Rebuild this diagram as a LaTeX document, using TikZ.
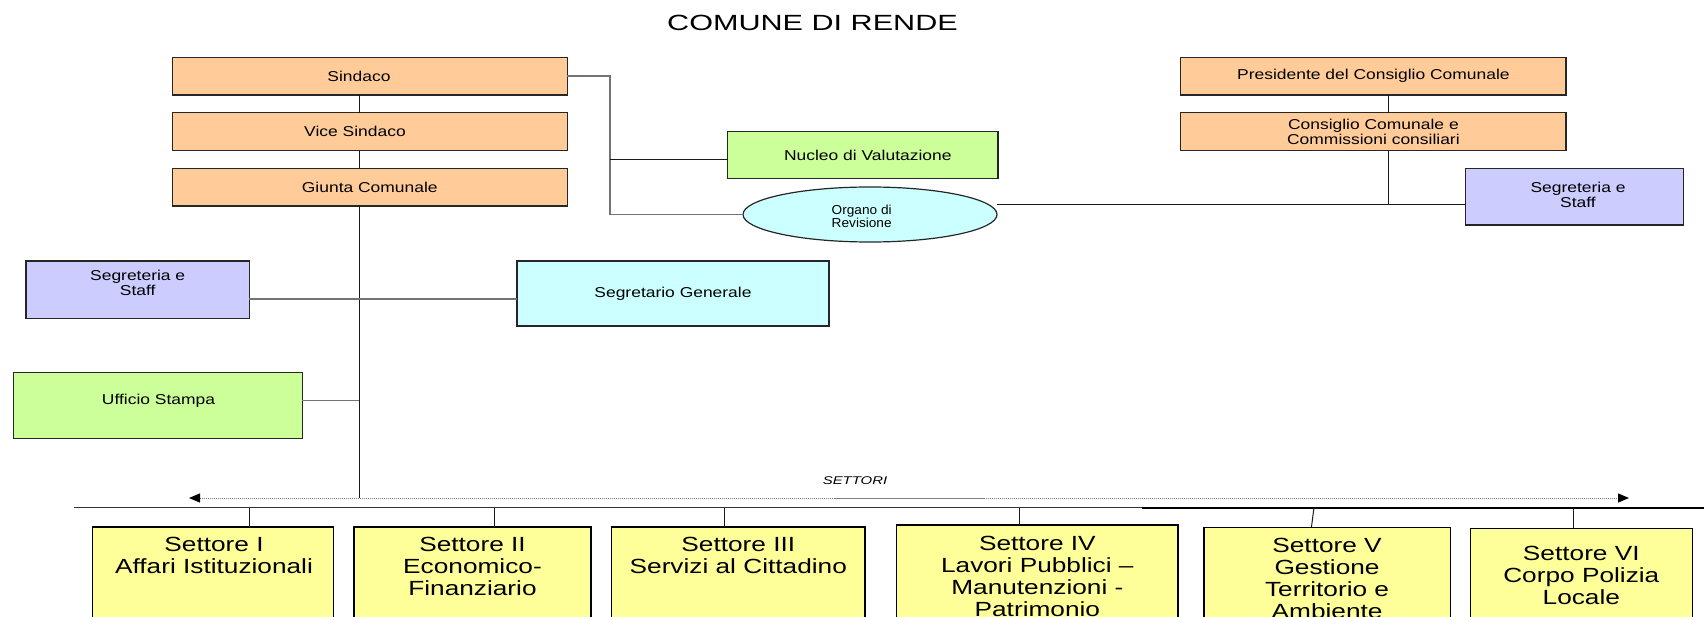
\documentclass[tikz,border=0pt]{standalone}
\usepackage{fontspec}
\setmainfont{Liberation Sans}
\newfontfamily\FontSmall{Liberation Sans}[FakeStretch=1.22]
\newfontfamily\FontSett{Liberation Sans}[FakeStretch=1.28]
\newfontfamily\FontTitle{Liberation Sans}[FakeStretch=1.39]
\newfontfamily\FontOrg{Liberation Sans}[FakeStretch=1.05]
\newfontfamily\FontSettori{Liberation Sans}[FakeStretch=1.33]
\usetikzlibrary{arrows.meta,shapes.geometric}
\definecolor{orF}{HTML}{FFCC99}
\definecolor{grF}{HTML}{CCFF99}
\definecolor{lvF}{HTML}{CCCCFF}
\definecolor{cyF}{HTML}{CCFFFF}
\definecolor{yeF}{HTML}{FFFF99}
\begin{document}
\begin{tikzpicture}[x=1pt,y=-1pt,
  box/.style={rectangle, draw=black!85, line width=1.2pt, inner sep=0pt, outer sep=0pt},
  sbox/.style={rectangle, draw=black, fill=yeF, line width=1.2pt, inner sep=0pt, outer sep=0pt},
  sm/.style={font=\FontSmall\fontsize{14.3}{14.8}\selectfont, align=center},
  stxt/.style={font=\FontSett\fontsize{20.5}{22}\selectfont, align=center, inner sep=0pt, anchor=north},
  ln/.style={line width=1pt, black!90},
  gln/.style={line width=1.5pt, black!55},
]
\useasboundingbox (0,0) rectangle (1704,617);
\fill[white] (0,0) rectangle (1704,617);

% title
\node[font=\FontTitle\fontsize{22}{26}\selectfont, inner sep=0pt, anchor=base] (title) at (812.5,30.9) {COMUNE DI RENDE};

% left column
\node[box, fill=orF, minimum width=395pt, minimum height=37.7pt, sm] (sind) at (369.8,76.2) {Sindaco\hspace*{21.6pt}};
\node[box, fill=orF, minimum width=395pt, minimum height=38pt, sm] (vice) at (369.8,131.7) {Vice Sindaco\hspace*{29.6pt}};
\node[box, fill=orF, minimum width=395pt, minimum height=37.7pt, sm] (giunta) at (369.8,187.2) {Giunta Comunale};

% right column
\node[box, fill=orF, minimum width=385.3pt, minimum height=37.7pt, sm] (pres) at (1373.4,76.2) {Presidente del Consiglio Comunale};
\node[box, fill=orF, minimum width=385.3pt, minimum height=38pt, sm] (cons) at (1373.4,131.7) {Consiglio Comunale e\\Commissioni consiliari};
\node[box, fill=lvF, minimum width=217.6pt, minimum height=56.7pt] (segR) at (1574.5,196.7) {};
\node[sm, inner sep=0pt, anchor=north] (segRt) at (1578,181.8) {Segreteria e\\Staff};

% middle
\node[box, fill=grF, minimum width=270.5pt, minimum height=46.6pt, sm] (nuc) at (862.8,155) {\hspace*{10pt}Nucleo di Valutazione};
\node[ellipse, draw=black!85, line width=1.2pt, fill=cyF, minimum width=254pt, minimum height=55pt, inner sep=0pt, outer sep=0pt] (org) at (870,214.5) {};
\node[font=\FontOrg\fontsize{13}{12.5}\selectfont, align=center, inner sep=0pt, anchor=north] (orgt) at (861.7,205.2) {Organo di\\Revisione};
\node[box, fill=cyF, minimum width=312pt, minimum height=65pt, sm] (segG) at (673,293.5) {Segretario Generale};

% staff boxes left
\node[box, fill=lvF, minimum width=223.3pt, minimum height=57.3pt] (segL) at (137.7,289.7) {};
\node[sm, inner sep=0pt, anchor=north] (segLt) at (137.7,270.1) {Segreteria e\\Staff};
\node[box, fill=grF, minimum width=289pt, minimum height=65.6pt] (uff) at (157.8,405.5) {};
\node[sm, inner sep=0pt, anchor=base] (ufft) at (158.5,404.2) {Ufficio Stampa};

% settori boxes
\node[sbox, minimum width=240.9pt, minimum height=133pt] (s1) at (212.85,593.5) {};
\node[sbox, minimum width=237pt, minimum height=133pt] (s2) at (472.5,593.5) {};
\node[sbox, minimum width=253.4pt, minimum height=133pt] (s3) at (738.3,593.5) {};
\node[sbox, minimum width=281.3pt, minimum height=135pt] (s4) at (1037.35,592.5) {};
\node[sbox, minimum width=246.3pt, minimum height=132.7pt] (s5) at (1327.05,593.65) {};
\node[sbox, minimum width=222.4pt, minimum height=131.7pt] (s6) at (1581.3,594.15) {};
\node[stxt] (s1t) at (214,537) {Settore I\\Affari Istituzionali};
\node[stxt] (s2t) at (472.5,537) {Settore II\\Economico-\\Finanziario};
\node[stxt] (s3t) at (738.3,537) {Settore III\\Servizi al Cittadino};
\node[stxt] (s4t) at (1037.35,536) {Settore IV\\Lavori Pubblici –\\Manutenzioni -\\Patrimonio};
\node[stxt] (s5t) at (1327.05,538) {Settore V\\Gestione\\Territorio e\\Ambiente};
\node[stxt] (s6t) at (1581.3,546) {Settore VI\\Corpo Polizia\\Locale};

% SETTORI label
\node[font=\FontSettori\itshape\fontsize{11.2}{13}\selectfont, inner sep=0pt, anchor=base] (settori) at (855,484.9) {SETTORI};

% coordinates
\coordinate (mx) at (359,0);
\coordinate (al) at (189,498);
\coordinate (ar) at (1629,498);
\coordinate (jx) at (610,0);
\coordinate (nj) at (610,159.3);
\coordinate (cj) at (1388.3,205);
\coordinate (hy) at (0,299);
\coordinate (uy) at (0,400.7);
\coordinate (g1) at (835,498.5);
\coordinate (g2) at (985,498.5);
\coordinate (busL) at (73.5,507.5);
\coordinate (busM) at (1142,508);
\coordinate (busR) at (1704,508);
\coordinate (busE) at (1704,507.5);
\coordinate (b1) at (249,507.5);
\coordinate (b2) at (494.5,507.5);
\coordinate (b3) at (724.6,507.5);
\coordinate (b4) at (1019,507.5);
\coordinate (b5) at (1314,507.5);
\coordinate (b5e) at (1311.4,0);
\coordinate (b6) at (1573.3,507.5);

% connectors
\draw[ln] (sind.south -| mx) -- (vice.north -| mx);
\draw[ln] (vice.south -| mx) -- (giunta.north -| mx);
\draw[ln] (giunta.south -| mx) -- (al -| mx);
\draw[gln] (sind.east) -- (sind.east -| jx) -- (jx |- org.west) -- (org.west);
\draw[ln] (nj) -- (nj -| nuc.west);
\draw[ln] (pres.south -| cj) -- (cons.north -| cj);
\draw[ln] (cons.south -| cj) -- (cj);
\draw[ln] (org.east |- cj) -- (cj -| segR.west);
\draw[gln] (segL.east |- hy) -- (segG.west |- hy);
\draw[gln] (uff.east |- uy) -- (mx |- uy);

% settori arrow
\draw[densely dotted, black!50, line width=1pt, {Triangle[length=11pt,width=9pt,black]}-{Triangle[length=11pt,width=9pt,black]}] (al) -- (ar);
\draw[line width=1.6pt, black!50] (g1) -- (g2);

% bus
\draw[line width=1.1pt, black!80] (busL) -- (busE);
\draw[line width=1.6pt, black] (busM) -- (busR);
\draw[ln] (b1) -- (b1 |- s1.north);
\draw[ln] (b2) -- (b2 |- s2.north);
\draw[ln] (b3) -- (b3 |- s3.north);
\draw[ln] (b4) -- (b4 |- s4.north);
\draw[ln] (b5) -- (b5e |- s5.north);
\draw[ln] (b6) -- (b6 |- s6.north);
\end{tikzpicture}
\end{document}
